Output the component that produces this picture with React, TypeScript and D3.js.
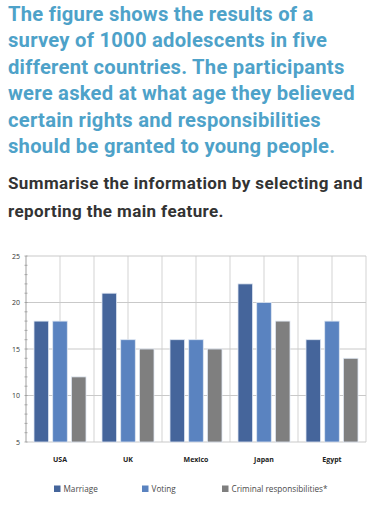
import React from 'react';
import * as d3 from 'd3';

const countries = ['USA', 'UK', 'Mexico', 'Japan', 'Egypt'];
const seriesNames = ['Marriage', 'Voting', 'Criminal responsibilities*'];
const marriage = [18, 21, 16, 22, 16];
const voting = [18, 16, 16, 20, 18];
const criminal = [12, 15, 15, 18, 14];
const yTicks = [5, 10, 15, 20, 25];
const colors = ['#45659b', '#5a83c0', '#7f7f7f'];

const titleLines = [
  'The figure shows the results of a',
  'survey of 1000 adolescents in five',
  'different countries. The participants',
  'were asked at what age they believed',
  'certain rights and responsibilities',
  'should be granted to young people.',
];
const promptLines = [
  'Summarise the information by selecting and',
  'reporting the main feature.',
];

const App = () => {
  const left = 26, right = 366, top = 256, bottom = 442;
  const series = [marriage, voting, criminal];

  const x0 = d3.scaleBand().domain(countries).range([left, right]).padding(0);
  const x1 = d3.scaleBand()
    .domain(seriesNames)
    .range([8, x0.bandwidth() - 8])
    .paddingInner(0.22);
  const y = d3.scaleLinear().domain([5, 25]).range([bottom, top]);

  // vertical grid at category edges and centres
  const vLines = d3.range(0, countries.length * 2 + 1).map(i => left + (i * x0.bandwidth()) / 2);
  const minor = d3.range(5, 26, 1);

  const legendX = [54, 142, 222];

  return (
    <svg width={384} height={512} style={{ position: 'absolute', left: 0, top: 0, background: '#fff' }}>
      <g fontFamily="Roboto" fontWeight="bold">
        {titleLines.map((t, i) => (
          <text key={t} x={8} y={20.5 + i * 26.5} fontSize={20.2} letterSpacing={0.25} fill="#4ea2c9">{t}</text>
        ))}
        {promptLines.map((t, i) => (
          <text key={t} x={8} y={188.5 + i * 28} fontSize={17} letterSpacing={0.4} fill="#333">{t}</text>
        ))}
      </g>

      {/* grid */}
      {vLines.map((v, i) => (
        <line key={'v' + i} x1={v} x2={v} y1={top} y2={bottom} stroke="#d3d3d3" strokeWidth={1} />
      ))}
      {yTicks.map(t => (
        <line key={'h' + t} x1={left} x2={right} y1={y(t)} y2={y(t)} stroke="#c9c9c9" strokeWidth={1} />
      ))}
      <line x1={left} x2={left} y1={top} y2={bottom} stroke="#b5b5b5" />
      {minor.map(m => (
        <line key={'m' + m} x1={left - 1.5} x2={left + 1.5} y1={y(m)} y2={y(m)} stroke="#999" strokeWidth={0.8} />
      ))}
      {yTicks.map(t => (
        <text key={'yl' + t} x={20} y={y(t) + 2.5} textAnchor="end" fontFamily="Open Sans" fontSize={7} fill="#333">{t}</text>
      ))}

      {/* bars */}
      {countries.map((c, ci) => (
        <g key={c} transform={`translate(${x0(c)},0)`}>
          {seriesNames.map((s, si) => (
            <rect
              key={s}
              x={x1(s)}
              y={y(series[si][ci])}
              width={x1.bandwidth()}
              height={bottom - y(series[si][ci])}
              fill={colors[si]}
              stroke="#dfe7f2"
              strokeWidth={0.8}
            />
          ))}
          <text
            x={x0.bandwidth() / 2}
            y={462}
            textAnchor="middle"
            fontFamily="Open Sans"
            fontWeight="bold"
            fontSize={7}
            fill="#222"
          >{c}</text>
        </g>
      ))}

      {/* legend */}
      {seriesNames.map((s, i) => (
        <g key={'lg' + s} transform={`translate(${legendX[i]},485.5)`}>
          <rect x={0} y={0} width={6.5} height={6.5} fill={colors[i]} />
          <text x={9.5} y={6.3} fontFamily="Open Sans" fontSize={8.2} fill="#4a4a4a">{s}</text>
        </g>
      ))}
    </svg>
  );
};

export default App;
